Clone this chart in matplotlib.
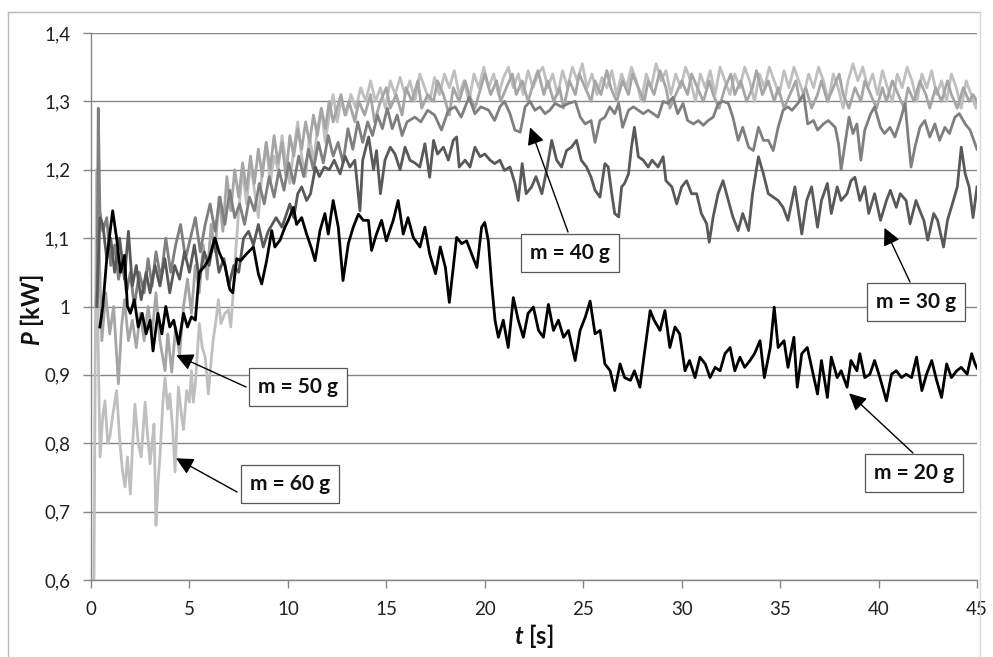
import matplotlib
matplotlib.use('Agg')
import matplotlib.pyplot as plt
from matplotlib.lines import Line2D

plt.rcParams['font.family'] = ['Lato', 'DejaVu Sans']
plt.rcParams['mathtext.fontset'] = 'custom'
plt.rcParams['mathtext.it'] = 'Lato:italic:bold'
plt.rcParams['mathtext.rm'] = 'Lato:bold'

# (t [s], P [kW])
m20 = [(0.45, 0.97), (0.6, 1.0), (0.8, 1.07), (1.1, 1.14), (1.3, 1.10), (1.5, 1.05), (1.7, 1.075),
       (1.85, 1.0), (2.0, 0.99), (2.2, 1.01), (2.4, 0.97), (2.6, 0.99), (2.8, 0.96), (3.0, 0.98),
       (3.15, 0.935), (3.4, 0.99), (3.6, 0.96), (3.8, 1.0), (4.0, 0.97), (4.2, 0.98), (4.45, 0.945),
       (4.7, 0.99), (4.9, 0.97), (5.1, 0.985), (5.3, 0.98), (5.5, 1.05), (5.8, 1.06), (6.0, 1.07),
       (6.3, 1.10), (6.5, 1.08), (6.8, 1.06), (7.05, 1.025), (7.2, 1.02), (7.4, 1.07), (7.6, 1.067),
       (7.9, 1.077), (8.25, 1.087), (8.5, 1.048), (8.67, 1.033), (8.92, 1.067), (9.18, 1.111),
       (9.34, 1.087), (9.6, 1.097), (9.85, 1.116), (10.02, 1.126), (10.28, 1.145), (10.44, 1.12),
       (10.7, 1.13), (10.95, 1.106), (11.2, 1.085), (11.38, 1.067), (11.63, 1.111), (11.88, 1.136),
       (12.05, 1.106), (12.3, 1.155), (12.56, 1.116), (12.8, 1.038), (13.07, 1.092), (13.32, 1.116),
       (13.58, 1.135), (13.83, 1.126), (14.09, 1.126), (14.25, 1.082), (14.5, 1.106), (14.76, 1.126),
       (15.0, 1.096), (15.35, 1.126), (15.6, 1.155), (15.86, 1.106), (16.1, 1.13), (16.37, 1.101),
       (16.71, 1.087), (16.96, 1.116), (17.2, 1.077), (17.5, 1.048), (17.74, 1.087), (18.0, 1.057),
       (18.2, 1.006), (18.4, 1.057), (18.57, 1.101), (18.83, 1.092), (19.08, 1.096), (19.33, 1.077),
       (19.6, 1.057), (19.84, 1.116), (20.0, 1.123), (20.18, 1.096), (20.35, 1.033), (20.52, 0.98),
       (20.69, 0.955), (20.94, 0.98), (21.19, 0.94), (21.45, 1.013), (21.7, 0.98), (21.96, 0.955),
       (22.2, 0.99), (22.47, 0.999), (22.73, 0.965), (22.98, 0.955), (23.23, 1.003), (23.49, 0.965),
       (23.74, 0.98), (24.0, 0.955), (24.25, 0.965), (24.59, 0.921), (24.84, 0.965), (25.1, 0.984),
       (25.35, 1.008), (25.6, 0.96), (25.86, 0.965), (26.1, 0.916), (26.37, 0.906), (26.6, 0.877),
       (26.87, 0.916), (27.1, 0.896), (27.4, 0.892), (27.6, 0.906), (27.88, 0.882), (28.1, 0.93),
       (28.4, 0.994), (28.6, 0.98), (28.9, 0.965), (29.15, 0.994), (29.4, 0.94), (29.66, 0.97),
       (29.9, 0.96), (30.17, 0.906), (30.4, 0.921), (30.68, 0.896), (30.93, 0.926), (31.2, 0.916),
       (31.44, 0.896), (31.7, 0.911), (31.95, 0.906), (32.2, 0.931), (32.46, 0.94), (32.7, 0.906),
       (32.96, 0.926), (33.2, 0.911), (33.47, 0.921), (33.7, 0.931), (33.98, 0.95), (34.2, 0.896),
       (34.5, 0.94), (34.7, 0.999), (34.9, 0.94), (35.2, 0.95), (35.4, 0.911), (35.7, 0.955),
       (35.87, 0.882), (36.1, 0.931), (36.38, 0.94), (36.6, 0.911), (36.9, 0.872), (37.1, 0.921),
       (37.4, 0.867), (37.6, 0.926), (37.9, 0.896), (38.1, 0.906), (38.4, 0.882), (38.6, 0.921),
       (38.9, 0.906), (39.05, 0.931), (39.3, 0.896), (39.56, 0.901), (39.8, 0.921), (40.07, 0.896),
       (40.4, 0.862), (40.66, 0.901), (40.9, 0.906), (41.17, 0.896), (41.4, 0.901), (41.68, 0.896),
       (41.93, 0.926), (42.2, 0.877), (42.44, 0.901), (42.7, 0.921), (42.95, 0.892), (43.2, 0.867),
       (43.46, 0.916), (43.7, 0.896), (43.97, 0.906), (44.2, 0.911), (44.5, 0.901), (44.73, 0.931),
       (44.9, 0.916), (45.0, 0.91)]

m30 = [(0.3, 1.0), (0.45, 1.13), (0.6, 1.12), (0.8, 1.07), (1.0, 1.1), (1.2, 1.05), (1.45, 1.1),
       (1.7, 1.04), (1.9, 1.11), (2.1, 1.03), (2.3, 1.06), (2.55, 1.01), (2.8, 1.05), (3.0, 1.02),
       (3.25, 1.06), (3.5, 1.03), (3.75, 1.07), (4.0, 1.02), (4.25, 1.06), (4.5, 1.04), (4.75, 1.08),
       (5.0, 1.05), (5.25, 1.09), (5.5, 1.04), (5.75, 1.08), (6.0, 1.06), (6.25, 1.1), (6.5, 1.05),
       (6.75, 1.07), (7.0, 1.03), (7.25, 1.06), (7.5, 1.05), (7.75, 1.1), (8.0, 1.11), (8.25, 1.09),
       (8.5, 1.12), (8.75, 1.087), (9.0, 1.11), (9.4, 1.13), (9.7, 1.116), (10.1, 1.15), (10.3, 1.13),
       (10.5, 1.165), (10.7, 1.175), (10.95, 1.155), (11.15, 1.165), (11.4, 1.204), (11.6, 1.19),
       (11.85, 1.204), (12.1, 1.2), (12.35, 1.214), (12.65, 1.194), (12.9, 1.22), (13.15, 1.204),
       (13.4, 1.214), (13.66, 1.14), (13.8, 1.214), (14.1, 1.248), (14.35, 1.2), (14.5, 1.228),
       (14.7, 1.165), (14.93, 1.214), (15.2, 1.233), (15.44, 1.223), (15.7, 1.2), (15.95, 1.233),
       (16.2, 1.214), (16.45, 1.21), (16.7, 1.204), (16.96, 1.238), (17.2, 1.189), (17.4, 1.243),
       (17.6, 1.223), (17.9, 1.233), (18.15, 1.214), (18.4, 1.243), (18.57, 1.248), (18.7, 1.204),
       (19.0, 1.214), (19.25, 1.204), (19.5, 1.233), (19.76, 1.219), (20.0, 1.223), (20.27, 1.214),
       (20.5, 1.209), (20.77, 1.214), (21.0, 1.199), (21.28, 1.204), (21.53, 1.18), (21.7, 1.155),
       (21.9, 1.209), (22.1, 1.165), (22.38, 1.175), (22.6, 1.19), (22.9, 1.165), (23.14, 1.199),
       (23.4, 1.243), (23.65, 1.214), (23.9, 1.204), (24.15, 1.228), (24.4, 1.233), (24.66, 1.243),
       (24.9, 1.214), (25.17, 1.204), (25.4, 1.189), (25.6, 1.17), (25.85, 1.16), (26.1, 1.209),
       (26.27, 1.204), (26.45, 1.165), (26.6, 1.136), (26.8, 1.131), (26.95, 1.175), (27.1, 1.18),
       (27.3, 1.194), (27.45, 1.233), (27.6, 1.262), (27.8, 1.219), (28.05, 1.214), (28.3, 1.204),
       (28.5, 1.214), (28.8, 1.204), (29.06, 1.219), (29.2, 1.184), (29.5, 1.175), (29.75, 1.15),
       (30.0, 1.175), (30.25, 1.184), (30.5, 1.165), (30.76, 1.165), (31.0, 1.136), (31.27, 1.121),
       (31.4, 1.094), (31.6, 1.131), (31.85, 1.165), (32.1, 1.184), (32.37, 1.155), (32.6, 1.131),
       (32.87, 1.111), (33.1, 1.136), (33.4, 1.111), (33.6, 1.165), (33.9, 1.219), (34.15, 1.194),
       (34.4, 1.165), (34.65, 1.16), (34.9, 1.155), (35.15, 1.145), (35.4, 1.126), (35.75, 1.175),
       (36.1, 1.106), (36.35, 1.155), (36.6, 1.175), (36.9, 1.116), (37.1, 1.155), (37.4, 1.18),
       (37.6, 1.136), (37.9, 1.175), (38.1, 1.155), (38.4, 1.165), (38.6, 1.184), (38.8, 1.189),
       (39.05, 1.155), (39.3, 1.175), (39.5, 1.136), (39.8, 1.165), (40.1, 1.126), (40.4, 1.155),
       (40.6, 1.17), (40.9, 1.145), (41.1, 1.165), (41.4, 1.155), (41.6, 1.121), (41.9, 1.155),
       (42.1, 1.14), (42.3, 1.126), (42.5, 1.097), (42.8, 1.136), (43.0, 1.126), (43.3, 1.087),
       (43.5, 1.126), (43.8, 1.155), (44.0, 1.175), (44.2, 1.233), (44.4, 1.194), (44.6, 1.175),
       (44.8, 1.13), (45.0, 1.175)]

m40 = [(0.3, 1.0), (0.37, 1.29), (0.45, 1.14), (0.6, 1.11), (0.8, 1.13), (1.0, 1.06), (1.2, 1.09),
       (1.4, 1.04), (1.6, 1.07), (1.8, 1.02), (2.0, 1.05), (2.2, 1.0), (2.45, 1.05), (2.7, 1.02),
       (2.9, 1.07), (3.1, 1.03), (3.3, 1.08), (3.55, 1.04), (3.8, 1.1), (4.05, 1.05), (4.3, 1.09),
       (4.55, 1.12), (4.8, 1.07), (5.05, 1.1), (5.3, 1.13), (5.55, 1.08), (5.8, 1.12), (6.05, 1.15),
       (6.3, 1.11), (6.55, 1.16), (6.8, 1.12), (7.05, 1.17), (7.3, 1.13), (7.55, 1.15), (7.8, 1.12),
       (8.05, 1.16), (8.3, 1.14), (8.55, 1.18), (8.8, 1.15), (9.05, 1.19), (9.3, 1.16), (9.55, 1.2),
       (9.8, 1.17), (10.05, 1.21), (10.3, 1.18), (10.55, 1.22), (10.8, 1.19), (11.05, 1.23),
       (11.3, 1.2), (11.55, 1.24), (11.8, 1.21), (12.05, 1.25), (12.3, 1.22), (12.55, 1.24),
       (12.8, 1.21), (13.05, 1.26), (13.3, 1.23), (13.55, 1.27), (13.8, 1.24), (14.05, 1.27),
       (14.3, 1.25), (14.55, 1.28), (14.8, 1.26), (15.05, 1.29), (15.3, 1.26), (15.55, 1.28),
       (15.8, 1.25), (16.05, 1.27), (16.45, 1.277), (16.75, 1.27), (17.1, 1.287), (17.45, 1.28),
       (17.8, 1.258), (18.15, 1.287), (18.5, 1.292), (18.8, 1.277), (19.2, 1.306), (19.5, 1.282),
       (19.8, 1.292), (20.2, 1.287), (20.5, 1.272), (20.77, 1.292), (21.0, 1.30), (21.28, 1.282),
       (21.53, 1.258), (21.8, 1.255), (22.05, 1.292), (22.3, 1.30), (22.55, 1.287), (22.8, 1.292),
       (23.06, 1.282), (23.3, 1.287), (23.57, 1.297), (23.9, 1.292), (24.25, 1.297), (24.6, 1.30),
       (24.85, 1.277), (25.1, 1.267), (25.4, 1.272), (25.6, 1.24), (25.85, 1.272), (26.1, 1.277),
       (26.35, 1.292), (26.6, 1.282), (26.8, 1.297), (27.0, 1.262), (27.3, 1.287), (27.55, 1.292),
       (27.8, 1.287), (28.05, 1.282), (28.3, 1.287), (28.55, 1.282), (28.8, 1.277), (29.06, 1.3),
       (29.3, 1.297), (29.56, 1.306), (29.8, 1.282), (30.07, 1.297), (30.3, 1.272), (30.6, 1.267),
       (30.85, 1.272), (31.1, 1.265), (31.35, 1.272), (31.6, 1.277), (31.86, 1.297), (32.1, 1.3),
       (32.37, 1.297), (32.6, 1.277), (32.87, 1.243), (33.1, 1.262), (33.4, 1.233), (33.64, 1.228),
       (33.9, 1.262), (34.15, 1.243), (34.4, 1.243), (34.65, 1.228), (34.9, 1.262), (35.15, 1.287),
       (35.4, 1.292), (35.6, 1.287), (35.9, 1.297), (36.2, 1.31), (36.4, 1.267), (36.7, 1.272),
       (36.9, 1.258), (37.2, 1.267), (37.45, 1.272), (37.8, 1.262), (37.97, 1.238), (38.1, 1.2),
       (38.3, 1.238), (38.5, 1.277), (38.7, 1.253), (38.9, 1.267), (39.1, 1.214), (39.3, 1.258),
       (39.6, 1.282), (39.8, 1.292), (40.1, 1.262), (40.3, 1.253), (40.58, 1.262), (40.83, 1.248),
       (41.1, 1.272), (41.35, 1.297), (41.5, 1.248), (41.65, 1.204), (41.85, 1.233), (42.1, 1.262),
       (42.35, 1.272), (42.6, 1.248), (42.86, 1.267), (43.1, 1.243), (43.37, 1.262), (43.6, 1.253),
       (43.88, 1.277), (44.1, 1.282), (44.4, 1.267), (44.65, 1.258), (44.9, 1.238), (45.0, 1.23)]

m50 = [(0.25, 1.0), (0.4, 1.1), (0.55, 0.95), (0.75, 1.02), (0.95, 0.96), (1.15, 1.0), (1.39, 0.887),
       (1.55, 0.97), (1.7, 1.01), (1.9, 0.95), (2.1, 0.98), (2.3, 0.94), (2.5, 0.99), (2.7, 0.95),
       (2.9, 1.0), (3.1, 0.96), (3.3, 1.02), (3.5, 0.95), (3.76, 0.906), (3.9, 0.96), (4.1, 0.904),
       (4.3, 0.97), (4.5, 0.93), (4.7, 1.0), (4.9, 1.04), (5.1, 0.99), (5.3, 1.06), (5.5, 1.02),
       (5.7, 1.09), (5.9, 1.04), (6.1, 1.12), (6.3, 1.08), (6.5, 1.16), (6.7, 1.11), (6.9, 1.19),
       (7.1, 1.14), (7.3, 1.2), (7.5, 1.16), (7.7, 1.21), (7.9, 1.17), (8.1, 1.22), (8.3, 1.18),
       (8.5, 1.23), (8.7, 1.19), (8.9, 1.24), (9.1, 1.2), (9.3, 1.25), (9.5, 1.21), (9.7, 1.24),
       (9.9, 1.19), (10.1, 1.25), (10.3, 1.22), (10.5, 1.26), (10.7, 1.23), (10.9, 1.27), (11.1, 1.24),
       (11.3, 1.28), (11.5, 1.25), (11.7, 1.29), (11.9, 1.26), (12.1, 1.3), (12.3, 1.27), (12.5, 1.29),
       (12.7, 1.31), (12.9, 1.28), (13.1, 1.3), (13.4, 1.27), (13.6, 1.30), (13.9, 1.28), (14.2, 1.31),
       (14.4, 1.27), (14.7, 1.30), (15.0, 1.32), (15.2, 1.29), (15.5, 1.31), (15.8, 1.28), (16.0, 1.32),
       (16.3, 1.30), (16.6, 1.33), (16.8, 1.29), (17.1, 1.31), (17.4, 1.30), (17.6, 1.33), (17.9, 1.31),
       (18.2, 1.28), (18.4, 1.32), (18.7, 1.30), (19.0, 1.33), (19.2, 1.31), (19.5, 1.29), (19.8, 1.32),
       (20.0, 1.34), (20.3, 1.31), (20.6, 1.33), (20.8, 1.30), (21.1, 1.32), (21.4, 1.34), (21.6, 1.31),
       (21.9, 1.33), (22.2, 1.30), (22.4, 1.32), (22.7, 1.345), (23.0, 1.31), (23.2, 1.33), (23.5, 1.30),
       (23.8, 1.32), (24.0, 1.29), (24.3, 1.33), (24.6, 1.31), (24.8, 1.34), (25.1, 1.32), (25.4, 1.30),
       (25.6, 1.33), (25.9, 1.31), (26.2, 1.345), (26.4, 1.32), (26.7, 1.30), (27.0, 1.33), (27.3, 1.31),
       (27.5, 1.34), (27.8, 1.32), (28.1, 1.30), (28.3, 1.33), (28.6, 1.31), (28.9, 1.345), (29.2, 1.32),
       (29.4, 1.29), (29.7, 1.31), (30.0, 1.33), (30.3, 1.31), (30.5, 1.34), (30.8, 1.32), (31.1, 1.30),
       (31.4, 1.33), (31.6, 1.31), (31.9, 1.29), (32.2, 1.32), (32.5, 1.34), (32.7, 1.31), (33.0, 1.33),
       (33.3, 1.30), (33.6, 1.32), (33.8, 1.345), (34.1, 1.31), (34.4, 1.33), (34.7, 1.30), (34.9, 1.32),
       (35.2, 1.29), (35.5, 1.31), (35.8, 1.33), (36.0, 1.30), (36.3, 1.32), (36.6, 1.29), (36.9, 1.31),
       (37.1, 1.33), (37.4, 1.30), (37.7, 1.32), (38.0, 1.34), (38.2, 1.31), (38.5, 1.29), (38.8, 1.32),
       (39.1, 1.30), (39.3, 1.33), (39.6, 1.31), (39.9, 1.29), (40.2, 1.32), (40.4, 1.30), (40.7, 1.33),
       (41.0, 1.31), (41.3, 1.29), (41.5, 1.32), (41.8, 1.30), (42.1, 1.33), (42.4, 1.31), (42.6, 1.29),
       (42.9, 1.32), (43.2, 1.30), (43.5, 1.33), (43.7, 1.31), (44.0, 1.29), (44.3, 1.32), (44.6, 1.30),
       (44.8, 1.31), (45.0, 1.30)]

m60 = [(0.15, 0.6), (0.22, 0.95), (0.28, 1.2), (0.36, 0.95), (0.46, 0.78), (0.6, 0.84), (0.71, 0.862),
       (0.85, 0.8), (0.96, 0.81), (1.1, 0.84), (1.3, 0.877), (1.47, 0.80), (1.6, 0.76), (1.73, 0.736),
       (1.85, 0.78), (2.0, 0.726), (2.1, 0.79), (2.23, 0.857), (2.4, 0.80), (2.55, 0.78), (2.75, 0.86),
       (2.85, 0.82), (3.0, 0.77), (3.1, 0.80), (3.2, 0.828), (3.3, 0.68), (3.4, 0.74), (3.5, 0.78),
       (3.65, 0.86), (3.76, 0.896), (3.9, 0.85), (4.0, 0.872), (4.15, 0.82), (4.27, 0.758), (4.35, 0.82),
       (4.44, 0.882), (4.6, 0.84), (4.7, 0.82), (4.86, 0.877), (5.0, 0.86), (5.1, 0.906), (5.2, 0.86),
       (5.3, 0.887), (5.5, 0.975), (5.65, 0.94), (5.8, 0.926), (5.96, 0.872), (6.1, 0.92), (6.2, 0.95),
       (6.35, 0.98), (6.47, 1.01), (6.6, 0.975), (6.8, 0.99), (6.98, 0.995), (7.1, 0.97), (7.2, 1.01),
       (7.35, 1.08), (7.5, 1.14), (7.7, 1.2), (7.9, 1.15), (8.1, 1.21), (8.3, 1.17), (8.5, 1.13),
       (8.7, 1.2), (8.9, 1.24), (9.1, 1.18), (9.3, 1.22), (9.5, 1.2), (9.7, 1.25), (9.9, 1.21),
       (10.1, 1.18), (10.3, 1.23), (10.5, 1.27), (10.7, 1.22), (10.9, 1.19), (11.1, 1.25), (11.3, 1.21),
       (11.5, 1.26), (11.7, 1.29), (11.9, 1.24), (12.1, 1.28), (12.3, 1.31), (12.5, 1.27), (12.7, 1.30),
       (12.95, 1.28), (13.2, 1.31), (13.45, 1.29), (13.7, 1.32), (13.95, 1.30), (14.2, 1.33),
       (14.45, 1.30), (14.7, 1.32), (14.95, 1.29), (15.2, 1.33), (15.45, 1.31), (15.7, 1.335),
       (15.95, 1.31), (16.2, 1.33), (16.45, 1.30), (16.7, 1.34), (16.95, 1.32), (17.2, 1.30),
       (17.45, 1.335), (17.7, 1.31), (17.95, 1.34), (18.2, 1.32), (18.45, 1.345), (18.7, 1.31),
       (18.95, 1.33), (19.2, 1.30), (19.45, 1.34), (19.7, 1.32), (19.95, 1.35), (20.2, 1.32),
       (20.45, 1.34), (20.7, 1.31), (20.95, 1.335), (21.2, 1.35), (21.45, 1.32), (21.7, 1.34),
       (21.95, 1.31), (22.2, 1.345), (22.45, 1.32), (22.7, 1.34), (22.95, 1.35), (23.2, 1.32),
       (23.45, 1.34), (23.7, 1.31), (23.95, 1.345), (24.2, 1.32), (24.45, 1.35), (24.7, 1.33),
       (24.95, 1.355), (25.2, 1.32), (25.45, 1.34), (25.7, 1.31), (25.95, 1.335), (26.2, 1.32),
       (26.45, 1.345), (26.7, 1.31), (26.95, 1.34), (27.2, 1.32), (27.45, 1.35), (27.7, 1.33),
       (27.95, 1.30), (28.2, 1.34), (28.45, 1.32), (28.7, 1.355), (28.95, 1.33), (29.2, 1.345),
       (29.45, 1.31), (29.7, 1.34), (29.95, 1.32), (30.2, 1.35), (30.45, 1.33), (30.7, 1.30),
       (30.95, 1.34), (31.2, 1.32), (31.45, 1.345), (31.7, 1.31), (31.95, 1.35), (32.2, 1.33),
       (32.45, 1.31), (32.7, 1.34), (32.95, 1.32), (33.2, 1.35), (33.45, 1.33), (33.7, 1.30),
       (33.95, 1.34), (34.2, 1.32), (34.45, 1.35), (34.7, 1.33), (34.95, 1.31), (35.2, 1.345),
       (35.45, 1.32), (35.7, 1.35), (35.95, 1.33), (36.2, 1.31), (36.45, 1.34), (36.7, 1.32),
       (36.95, 1.35), (37.2, 1.33), (37.45, 1.30), (37.7, 1.34), (37.95, 1.32), (38.2, 1.29),
       (38.45, 1.33), (38.7, 1.355), (38.95, 1.33), (39.2, 1.35), (39.45, 1.32), (39.7, 1.34),
       (39.95, 1.31), (40.2, 1.345), (40.45, 1.32), (40.7, 1.30), (40.95, 1.34), (41.2, 1.32),
       (41.45, 1.35), (41.7, 1.33), (41.95, 1.30), (42.2, 1.34), (42.45, 1.32), (42.7, 1.345),
       (42.95, 1.31), (43.2, 1.33), (43.45, 1.30), (43.7, 1.34), (43.95, 1.32), (44.2, 1.29),
       (44.45, 1.33), (44.7, 1.31), (44.95, 1.29), (45.0, 1.30)]

series = [m60, m50, m40, m30, m20]
colors = ['#bfbfbf', '#a5a5a5', '#7f7f7f', '#595959', '#000000']

labels = ['m = 20 g', 'm = 30 g', 'm = 40 g', 'm = 50 g', 'm = 60 g']
# arrow tips (t, P) for each label
tips = [(38.5, 0.873), (40.3, 1.115), (22.3, 1.262), (4.32, 0.929), (4.32, 0.778)]

xticks = [0, 5, 10, 15, 20, 25, 30, 35, 40, 45]
yticks = [0.6, 0.7, 0.8, 0.9, 1.0, 1.1, 1.2, 1.3, 1.4]
ytick_labels = ['0,6', '0,7', '0,8', '0,9', '1', '1,1', '1,2', '1,3', '1,4']

W, H = 993, 657
fig = plt.figure(figsize=(W / 100, H / 100), dpi=100)
ax = fig.add_axes([91 / W, 1 - 580 / H, (977 - 91) / W, (580 - 33) / H])


def fx(px):
    return px / W


def fy(py):
    return 1 - py / H


# outer chart frame (cropped at right/bottom)
fig.add_artist(Line2D([fx(8), fx(8)], [0, fy(12)], color='#b8b8b8', lw=1))
fig.add_artist(Line2D([fx(8), fx(980)], [fy(12), fy(12)], color='#b8b8b8', lw=1))
fig.add_artist(Line2D([fx(980), fx(980)], [0, fy(12)], color='#d8d8d8', lw=1))

for s, c in zip(series, colors):
    t = [a for a, b in s]
    p = [b for a, b in s]
    ax.plot(t, p, color=c, lw=2.0, solid_joinstyle='round')

ax.set_xlim(0, 45)
ax.set_ylim(0.6, 1.4)
ax.set_xticks(xticks)
ax.set_yticks(yticks)
ax.set_yticklabels(ytick_labels)
ax.grid(axis='y', color='#868686', lw=1.0)
ax.set_axisbelow(True)
for side in ['top', 'right']:
    ax.spines[side].set_visible(False)
for side in ['left', 'bottom']:
    ax.spines[side].set_color('#868686')
    ax.spines[side].set_linewidth(1.0)
ax.tick_params(axis='both', colors='#868686', labelcolor='#222222', labelsize=13.5, length=6, width=1)
ax.tick_params(axis='y', pad=9)
ax.tick_params(axis='x', pad=9)

fig.text(fx(32), fy(310), r'$P$ [kW]', rotation=90, ha='center', va='center',
         fontsize=17, fontweight='bold', color='#111111')
fig.text(fx(534), fy(636), r'$t$ [s]', ha='center', va='center',
         fontsize=17, fontweight='bold', color='#111111')

# label boxes: centre (px) and arrow start (px)
box_centre = [(914, 473), (916, 302), (570, 253), (298, 387), (290, 484)]
arrow_start = [(913, 453), (910, 282), (568, 232), (246, 387), (237, 492)]
for lab, tip, bc, st in zip(labels, tips, box_centre, arrow_start):
    ax.annotate('', xy=tip, xycoords='data', xytext=(fx(st[0]), fy(st[1])),
                textcoords='figure fraction',
                arrowprops=dict(arrowstyle='-|>', color='black', lw=1.0,
                                mutation_scale=26, shrinkA=0, shrinkB=0))
    fig.text(fx(bc[0]), fy(bc[1]), lab, ha='center', va='center', fontsize=15,
             fontweight='bold', color='#111111',
             bbox=dict(boxstyle='square,pad=0.45', fc='white', ec='#555555', lw=0.9))

fig.savefig('out.png', dpi=100)
